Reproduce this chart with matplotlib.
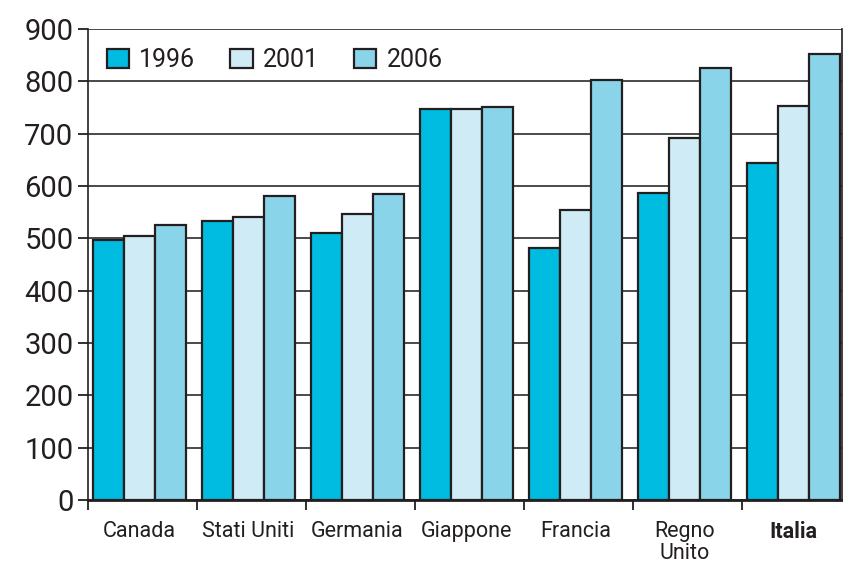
import numpy as np
import matplotlib
matplotlib.use('Agg')
import matplotlib.pyplot as plt
from matplotlib.ticker import FixedLocator, NullFormatter

plt.rcParams['font.family'] = ['Roboto', 'DejaVu Sans']

countries = ['Canada', 'Stati Uniti', 'Germania', 'Giappone', 'Francia', 'Regno\nUnito', 'Italia']
years = ['1996', '2001', '2006']
v1996 = [497, 534, 511, 748, 481, 586, 643]
v2001 = [505, 541, 546, 747, 554, 691, 752]
v2006 = [526, 580, 585, 751, 803, 826, 853]
yticks = list(range(0, 1000, 100))

colors = ['#00BCE0', '#CFEBF5', '#8AD4EA']
ink = '#231F20'

fig = plt.figure(figsize=(8.43, 5.68), dpi=100)
ax = fig.add_axes([88 / 843, 1 - 500 / 568, 754 / 843, 471 / 568])

x = np.arange(len(countries))
w = 0.284
for k, (vals, c, lab) in enumerate(zip([v1996, v2001, v2006], colors, years)):
    ax.bar(x + (k - 1) * w, vals, width=w, color=c, edgecolor=ink,
           linewidth=1.6, label=lab, zorder=3)

ax.set_xlim(-0.4725, 6.4425)
ax.set_ylim(0, 900)
ax.set_yticks(yticks)
ax.set_yticklabels([str(t) for t in yticks], fontsize=21, color=ink)
ax.yaxis.grid(True, color='#4a4a4a', linewidth=1.4, zorder=0)
ax.set_axisbelow(True)

ax.set_xticks(x)
ax.set_xticklabels(countries, fontsize=15.5, color=ink, linespacing=1.05)
ax.get_xticklabels()[-1].set_fontweight('bold')
ax.tick_params(axis='x', which='major', length=0, pad=15)
ax.xaxis.set_minor_locator(FixedLocator(list(x - 0.4725)))
ax.xaxis.set_minor_formatter(NullFormatter())
ax.tick_params(axis='x', which='minor', length=7, width=1.3, color=ink, direction='out')
ax.tick_params(axis='y', length=7.5, width=1.3, color=ink, direction='out', pad=3)

for s in ['left', 'right', 'bottom']:
    ax.spines[s].set_color(ink)
    ax.spines[s].set_linewidth(1.2)
ax.spines['bottom'].set_linewidth(2)
ax.spines['top'].set_visible(False)

leg = ax.legend(loc='upper left', ncol=3, frameon=False, fontsize=18,
                bbox_to_anchor=(0.0, 1.0), handlelength=0.9, handleheight=0.8,
                handletextpad=0.4, columnspacing=1.4, borderaxespad=0.35)
for t in leg.get_texts():
    t.set_color(ink)

fig.savefig('out.png', dpi=100)
